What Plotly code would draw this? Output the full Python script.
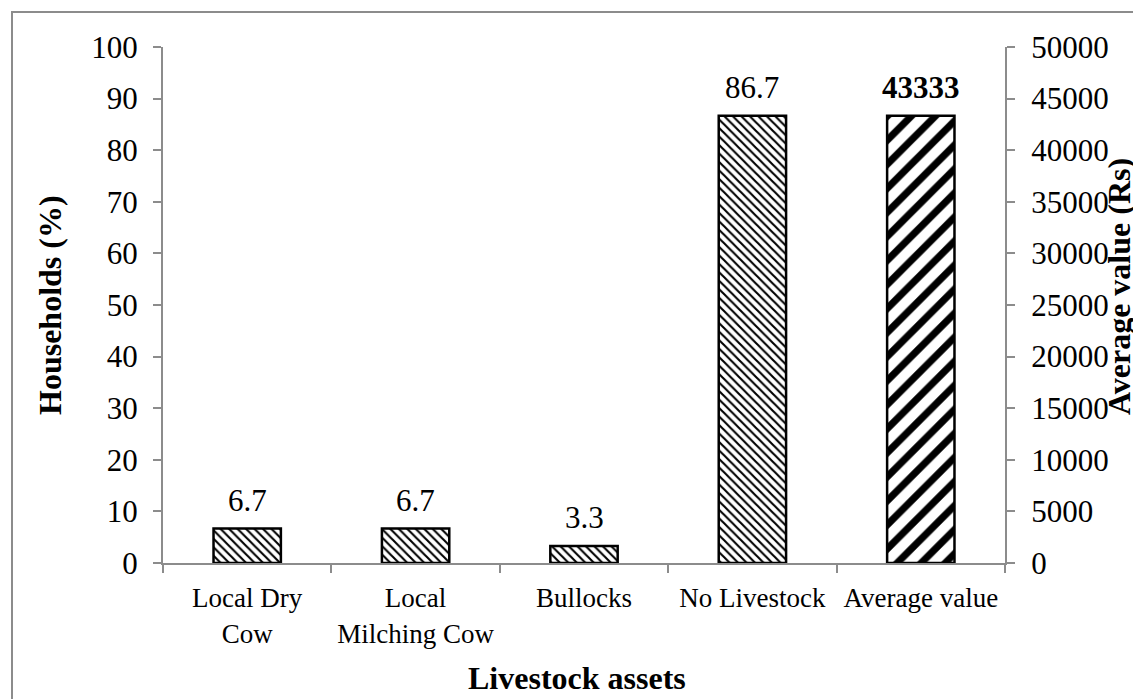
import plotly.graph_objects as go

# Livestock assets: share of households (%) and average value (Rs)
categories = ["Local Dry<br>Cow", "Local<br>Milching Cow", "Bullocks", "No Livestock"]
households_pct = [6.7, 6.7, 3.3, 86.7]
avg_category = ["Average value"]
avg_value_rs = [43333]

left_ticks = list(range(0, 101, 10))
right_ticks = list(range(0, 50001, 5000))

SERIF = "Liberation Serif, Times New Roman, serif"
AXIS_GRAY = "#8c8c8c"
LABEL_SIZE = 31

fig = go.Figure()

fig.add_trace(go.Bar(
    x=categories,
    y=households_pct,
    marker=dict(
        color="white",
        line=dict(color="black", width=2.5),
        pattern=dict(shape="\\", fgcolor="black", fgopacity=1, bgcolor="white",
                     size=6, solidity=0.35),
    ),
    yaxis="y",
    showlegend=False,
))

fig.add_trace(go.Bar(
    x=avg_category,
    y=avg_value_rs,
    marker=dict(
        color="white",
        line=dict(color="black", width=2.5),
        pattern=dict(shape="/", fgcolor="black", fgopacity=1, bgcolor="white",
                     size=17, solidity=0.42),
    ),
    yaxis="y2",
    showlegend=False,
))

PL, PR, PT, PB = 163, 128, 47, 136
W, H = 1133, 699
pw, ph = W - PL - PR, H - PT - PB

def px_x(x):
    return (x - PL) / pw

def px_y(y):
    return (H - PB - y) / ph

# value labels sitting above each bar
value_labels = [
    dict(x=c, y=v, xref="x", yref="y", text=f"{v:.1f}")
    for c, v in zip(categories, households_pct)
] + [
    dict(x=c, y=v, xref="x", yref="y2", text=f"<b>{v}</b>")
    for c, v in zip(avg_category, avg_value_rs)
]
for lab in value_labels:
    lab.update(showarrow=False, xanchor="center", yanchor="middle", yshift=28,
               font=dict(family=SERIF, size=LABEL_SIZE, color="black"))

axis_titles = [
    dict(text="<b>Households (%)</b>", xref="paper", yref="paper",
         x=px_x(50), y=px_y(305), textangle=-90),
    dict(text="<b>Average value (Rs)</b>", xref="paper", yref="paper",
         x=px_x(1119), y=px_y(287), textangle=-90),
    dict(text="<b>Livestock assets</b>", xref="paper", yref="paper",
         x=px_x(577), y=px_y(678)),
]
for t in axis_titles:
    t.update(showarrow=False, xanchor="center", yanchor="middle",
             font=dict(family=SERIF, size=32, color="black"))

axis_common = dict(
    showline=True,
    linecolor=AXIS_GRAY,
    linewidth=2,
    ticks="outside",
    ticklen=8,
    tickcolor=AXIS_GRAY,
    tickwidth=2,
    showgrid=False,
    zeroline=False,
)

fig.update_layout(
    width=W,
    height=H,
    margin=dict(l=PL, r=PR, t=PT, b=PB, autoexpand=False),
    paper_bgcolor="white",
    plot_bgcolor="white",
    barmode="overlay",
    bargap=0.6,
    font=dict(family=SERIF, color="black"),
    xaxis=dict(
        type="category",
        tickson="boundaries",
        tickfont=dict(family=SERIF, size=27, color="black"),
        ticklabelstandoff=10,
        **axis_common,
    ),
    yaxis=dict(
        range=[0, 100],
        tickvals=left_ticks,
        tickfont=dict(family=SERIF, size=31, color="black"),
        ticklabelstandoff=9,
        **axis_common,
    ),
    yaxis2=dict(
        range=[0, 50000],
        tickvals=right_ticks,
        tickformat="d",
        overlaying="y",
        side="right",
        tickfont=dict(family=SERIF, size=31, color="black"),
        ticklabelstandoff=10,
        **axis_common,
    ),
    annotations=value_labels + axis_titles,
    shapes=[
        dict(type="rect", xref="paper", yref="paper", layer="below",
             x0=px_x(12), x1=px_x(1150), y0=px_y(715), y1=px_y(12),
             line=dict(color=AXIS_GRAY, width=2), fillcolor="rgba(0,0,0,0)"),
    ],
)

fig.write_html("out.html")
